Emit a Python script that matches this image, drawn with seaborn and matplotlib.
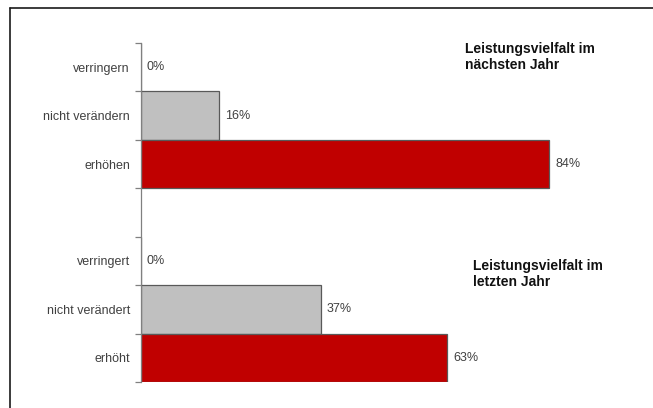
import matplotlib
matplotlib.use("Agg")
import matplotlib.pyplot as plt
from matplotlib.lines import Line2D
import seaborn as sns
import pandas as pd
import numpy as np

categories = ["verringern", "nicht verändern", "erhöhen", "",
              "verringert", "nicht verändert", "erhöht"]
values = [0, 16, 84, np.nan, 0, 37, 63]
bar_colors = ["#C0C0C0", "#C0C0C0", "#C00000", "#FFFFFF",
              "#C0C0C0", "#C0C0C0", "#C00000"]
titles = ["Leistungsvielfalt im\nnächsten Jahr", "Leistungsvielfalt im\nletzten Jahr"]

sns.set_theme(style="white")
plt.rcParams["font.family"] = ["Liberation Sans", "DejaVu Sans"]

W, H = 653, 408
fig = plt.figure(figsize=(W / 100, H / 100), dpi=100)
ax = fig.add_axes([141 / W, 1 - 382 / H, (627 - 141) / W, (382 - 43) / H])

df = pd.DataFrame({"kategorie": categories, "wert": values})
sns.barplot(data=df, y="kategorie", x="wert", hue="kategorie",
            palette=dict(zip(categories, bar_colors)), legend=False,
            saturation=1, width=1.0, edgecolor="#595959", linewidth=0.9, ax=ax)

ax.set_xlim(0, 100)
ax.set_ylim(len(categories) - 0.5, -0.5)
ax.set_xlabel("")
ax.set_ylabel("")
ax.set_xticks([])

for s in ["top", "right", "bottom"]:
    ax.spines[s].set_visible(False)
ax.spines["left"].set_color("#808080")
ax.spines["left"].set_linewidth(0.9)

ax.set_yticks(range(len(categories)))
ax.set_yticklabels(categories, color="#404040", fontsize=9)
ax.tick_params(axis="y", which="major", length=0, pad=8)
ax.set_yticks(np.arange(-0.5, len(categories)), minor=True)
ax.tick_params(axis="y", which="minor", length=4, width=0.9,
               color="#808080", direction="out", left=True)

for i, v in enumerate(values):
    if np.isnan(v):
        continue
    ax.text(v + 1.2, i, f"{v:.0f}%", va="center", ha="left",
            fontsize=9, color="#404040")

fig.text(465 / W, 1 - 42 / H, titles[0], ha="left", va="top",
         fontsize=10, fontweight="bold", color="#111111", linespacing=1.2)
fig.text(473 / W, 1 - 259 / H, titles[1], ha="left", va="top",
         fontsize=10, fontweight="bold", color="#111111", linespacing=1.2)

# frame lines along the top and left edge
fig.add_artist(Line2D([10 / W, 1], [1 - 8 / H, 1 - 8 / H],
                      color="#1a1a1a", linewidth=1.2))
fig.add_artist(Line2D([10 / W, 10 / W], [0, 1 - 8 / H],
                      color="#1a1a1a", linewidth=1.2))

fig.savefig("out.png", dpi=100)
